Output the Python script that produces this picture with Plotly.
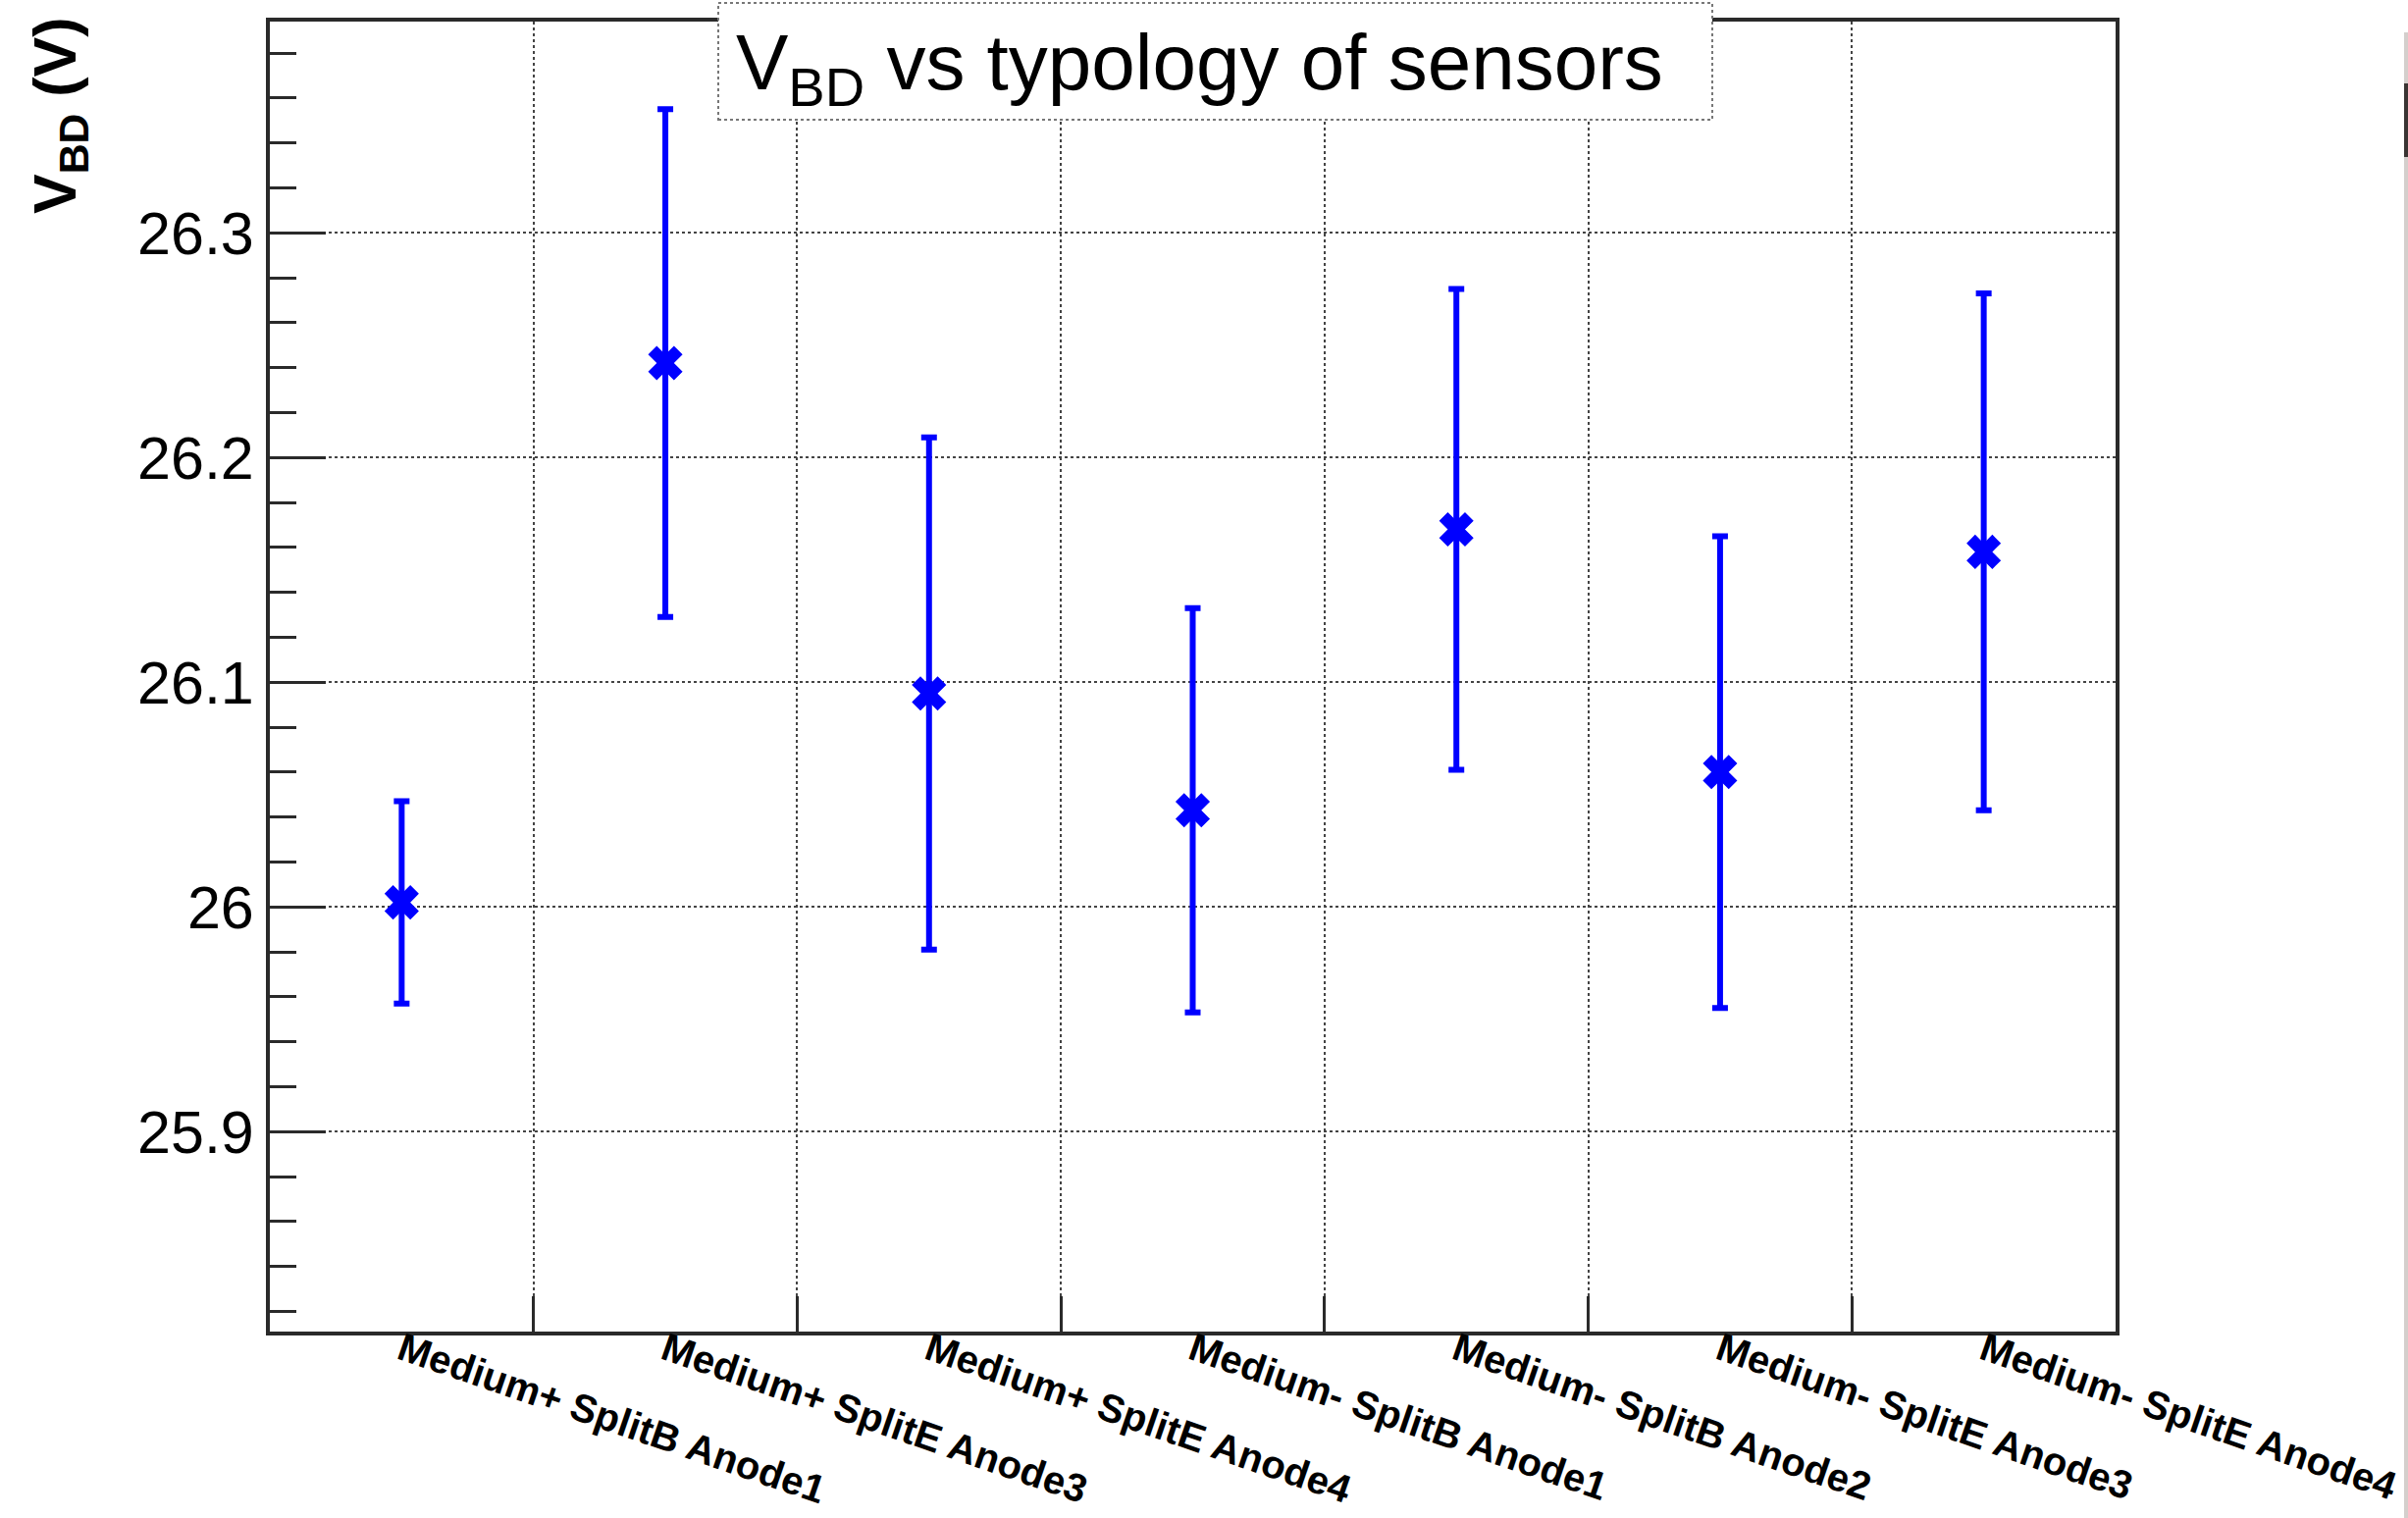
import plotly.graph_objects as go

categories = ["Medium+ SplitB Anode1", "Medium+ SplitE Anode3", "Medium+ SplitE Anode4",
              "Medium- SplitB Anode1", "Medium- SplitB Anode2", "Medium- SplitE Anode3",
              "Medium- SplitE Anode4"]
vbd = [26.002, 26.242, 26.095, 26.043, 26.168, 26.060, 26.158]
vbd_err = [0.045, 0.113, 0.114, 0.090, 0.107, 0.105, 0.115]
ytick_vals = [25.9, 26.0, 26.1, 26.2, 26.3]
ytick_text = ["25.9", "26", "26.1", "26.2", "26.3"]

W, H = 2454, 1547
L, R, T, B = 275, 2156, 22, 1357
pw, ph = R - L, B - T

def px(x):
    return (x - L) / pw

def py(y):
    return (B - y) / ph

blue = "#0000ff"
axc = "#2a2a2a"
gridc = "#444444"

fig = go.Figure()
fig.add_trace(go.Scatter(
    x=categories, y=vbd, mode="markers",
    marker=dict(symbol="x", size=31, color=blue, line=dict(width=0)),
    error_y=dict(type="data", array=vbd_err, visible=True, color=blue,
                 thickness=6, width=8),
    showlegend=False,
))

fig.update_layout(
    width=W, height=H,
    margin=dict(l=L, r=W - R, t=T, b=H - B, pad=0, autoexpand=False),
    paper_bgcolor="white", plot_bgcolor="white",
    font=dict(family="Liberation Sans, Arial, sans-serif", color="black"),
    xaxis=dict(
        type="category", categoryorder="array", categoryarray=categories,
        range=[-0.5, 6.5], tickson="boundaries", automargin=False,
        showline=True, mirror=True, linecolor=axc, linewidth=4,
        ticks="inside", ticklen=36, tickwidth=3, tickcolor=axc,
        showgrid=True, gridcolor=gridc, gridwidth=2, griddash="dot",
        tickangle=19, ticklabelstandoff=-24,
        tickfont=dict(family="Liberation Sans, Arial, sans-serif", size=40, color="black", weight="bold"),
        zeroline=False,
    ),
    yaxis=dict(
        range=[25.811, 26.394], automargin=False,
        tickmode="array", tickvals=ytick_vals, ticktext=ytick_text,
        showline=True, mirror=True, linecolor=axc, linewidth=4,
        ticks="inside", ticklen=57, tickwidth=3, tickcolor=axc,
        showgrid=True, gridcolor=gridc, gridwidth=2, griddash="dot",
        tickfont=dict(family="Liberation Sans, Arial, sans-serif", size=61, color="black"),
        ticklabelstandoff=0,
        minor=dict(tickmode="linear", tick0=25.9, dtick=0.02, ticks="inside",
                   ticklen=27, tickwidth=3, tickcolor=axc, showgrid=False),
        zeroline=False,
    ),
)

# title box
fig.add_shape(type="rect", xref="paper", yref="paper",
              x0=px(732), x1=px(1745), y0=py(122), y1=py(3),
              fillcolor="white", line=dict(color="#777777", width=2, dash="dot"),
              layer="above")
fig.add_annotation(xref="paper", yref="paper", x=px(1222), y=py(70),
                   xanchor="center", yanchor="middle", showarrow=False,
                   text="V<sub>BD</sub> vs typology of sensors",
                   font=dict(family="Liberation Sans, Arial, sans-serif",
                             size=80, color="black"))
# y-axis title
fig.add_annotation(xref="paper", yref="paper", x=px(60), y=py(118),
                   xanchor="center", yanchor="middle", showarrow=False,
                   textangle=-90,
                   text="<b>V<sub>BD</sub> (V)</b>",
                   font=dict(family="Liberation Sans, Arial, sans-serif",
                             size=61, color="black"))

# right-edge strip from neighbouring panel
fig.add_shape(type="rect", xref="paper", yref="paper",
              x0=px(2450), x1=px(2455), y0=py(1547), y1=py(33),
              fillcolor="#d4cfcc", line=dict(width=0), layer="above")
fig.add_shape(type="rect", xref="paper", yref="paper",
              x0=px(2450), x1=px(2455), y0=py(160), y1=py(85),
              fillcolor="#3a3533", line=dict(width=0), layer="above")

fig.write_html("out.html")
